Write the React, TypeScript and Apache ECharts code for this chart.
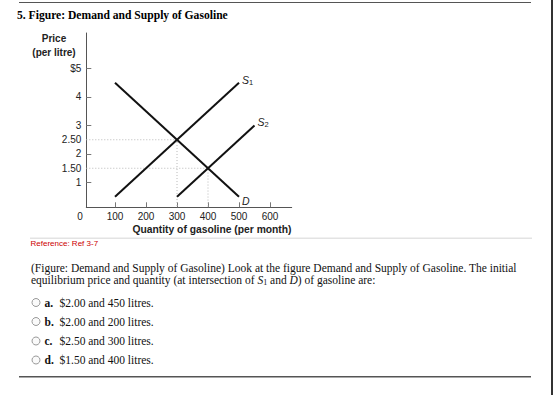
import React, { useEffect, useRef } from "react";
import * as echarts from "echarts";

const demand: number[][] = [[100, 4.5], [500, 0.5]];
const supply1: number[][] = [[100, 0.5], [500, 4.5]];
const supply2: number[][] = [[300, 0.5], [550, 3]];
const equilibria: number[][] = [[300, 2.5], [400, 1.5]];
const priceTicks = [1, 2, 3, 4, 5];
const priceLabels = [1, 1.5, 2, 2.5, 3, 4, 5];
const quantityTicks = [100, 200, 300, 400, 500, 600];
const answerLetters = ["a.", "b.", "c.", "d."];
const answerTexts = [
  "$2.00 and 450 litres.",
  "$2.00 and 200 litres.",
  "$2.50 and 300 litres.",
  "$1.50 and 400 litres.",
];

const X_MIN = 7.4;
const X_MAX = 670;
const Y_MIN = 0.13;
const Y_MAX = 6.245;

const SANS = "'Liberation Sans', Arial, sans-serif";
const SERIF = "'Liberation Serif', 'Times New Roman', serif";

export default function App() {
  const ref = useRef<HTMLDivElement>(null);
  useEffect(() => {
    if (!ref.current) return;
    const chart = echarts.init(ref.current, undefined, { renderer: "svg" });

    const curveLabel = (main: string, sub: string) => ({
      show: true,
      formatter: sub ? `{s|${main}}{b|${sub}}` : `{s|${main}}`,
      distance: 3,
      offset: [0, main === "D" ? 4 : -3],
      rich: {
        s: { fontFamily: SANS, fontStyle: "italic", fontSize: 10.5, color: "#222" },
        b: { fontFamily: SANS, fontSize: 7.5, color: "#222", padding: [5, 0, 0, 0] },
      },
    });

    const lineSeries = (data: number[][], main: string, sub: string) => ({
      type: "line",
      data,
      symbol: "none",
      silent: true,
      lineStyle: { color: "#111", width: 2 },
      endLabel: curveLabel(main, sub),
      z: 5,
    });

    const guideSeries = equilibria.map(([q, p]) => ({
      type: "line",
      data: [[X_MIN, p], [q, p], [q, Y_MIN]],
      symbol: "none",
      silent: true,
      lineStyle: { color: "#b8b8b8", width: 1, type: [1, 2] },
      z: 2,
    }));

    const graphics: any[] = [
      { type: "rect", shape: { x: 19, y: 2, width: 512, height: 1 }, style: { fill: "#555" } },
      { type: "rect", shape: { x: 551, y: 0, width: 2, height: 395 }, style: { fill: "#333" } },
      {
        type: "text", x: 17, y: 15,
        style: { text: "5. Figure: Demand and Supply of Gasoline", font: `bold 11.6px ${SERIF}`, fill: "#000", textVerticalAlign: "middle" },
      },
      {
        type: "text", x: 54, y: 38.5,
        style: { text: "Price", font: `bold 10px ${SANS}`, fill: "#222", textAlign: "center", textVerticalAlign: "middle" },
      },
      {
        type: "text", x: 54, y: 52.5,
        style: { text: "(per litre)", font: `bold 10px ${SANS}`, fill: "#222", textAlign: "center", textVerticalAlign: "middle" },
      },
      {
        type: "text", x: 80, y: 216,
        style: { text: "0", font: `10px ${SANS}`, fill: "#222", textAlign: "center", textVerticalAlign: "middle" },
      },
      {
        type: "text", x: 212, y: 229.5,
        style: { text: "Quantity of gasoline (per month)", font: `bold 10.3px ${SANS}`, fill: "#222", textAlign: "center", textVerticalAlign: "middle" },
      },
      { type: "rect", shape: { x: 30, y: 237.5, width: 502, height: 1.5 }, style: { fill: "#e3e3e3" } },
      {
        type: "text", x: 30.5, y: 243,
        style: { text: "Reference: Ref 3-7", font: `8px ${SANS}`, fill: "#cc0000", textVerticalAlign: "middle" },
      },
      {
        type: "text", x: 31, y: 267.5,
        style: {
          text: "(Figure: Demand and Supply of Gasoline) Look at the figure Demand and Supply of Gasoline. The initial",
          font: `11.5px ${SERIF}`, fill: "#111", textVerticalAlign: "middle",
        },
      },
      {
        type: "text", x: 31, y: 280,
        style: {
          text: "{n|equilibrium price and quantity (at intersection of }{i|S}{sb|1}{n| and }{i|D}{n|) of gasoline are:}",
          fill: "#111", textVerticalAlign: "middle",
          rich: {
            n: { fontFamily: SERIF, fontSize: 11.5, fill: "#111" },
            i: { fontFamily: SERIF, fontSize: 11.5, fontStyle: "italic", fill: "#111" },
            sb: { fontFamily: SERIF, fontSize: 8, fill: "#111", padding: [4, 0, 0, 0] },
          },
        },
      },
      { type: "rect", shape: { x: 19, y: 376, width: 512, height: 1.5 }, style: { fill: "#555" } },
    ];

    const optionYs = [302.5, 321.5, 341, 360];
    answerLetters.forEach((letter, i) => {
      const y = optionYs[i];
      graphics.push({
        type: "circle", shape: { cx: 36, cy: y, r: 4 },
        style: { fill: "#fafafa", stroke: "#9a9a9a", lineWidth: 1 },
      });
      graphics.push({
        type: "text", x: 44.5, y,
        style: { text: letter, font: `bold 11.5px ${SERIF}`, fill: "#111", textVerticalAlign: "middle" },
      });
      graphics.push({
        type: "text", x: 59.5, y,
        style: { text: answerTexts[i], font: `11.5px ${SERIF}`, fill: "#111", textVerticalAlign: "middle" },
      });
    });

    chart.setOption({
      animation: false,
      backgroundColor: "#ffffff",
      grid: { left: 86.3, right: 553 - 291.7, top: 33, bottom: 395 - 207.3, containLabel: false },
      xAxis: {
        type: "value",
        min: X_MIN,
        max: X_MAX,
        splitLine: { show: false },
        axisLine: { show: true, lineStyle: { color: "#555", width: 1 } },
        axisTick: { show: true, inside: true, length: 5, customValues: quantityTicks, lineStyle: { color: "#777" } },
        axisLabel: { customValues: quantityTicks, margin: 4, fontFamily: SANS, fontSize: 10, color: "#222" },
      },
      yAxis: {
        type: "value",
        min: Y_MIN,
        max: Y_MAX,
        splitLine: { show: false },
        axisLine: { show: true, lineStyle: { color: "#555", width: 1 } },
        axisTick: { show: true, inside: true, length: 5, customValues: priceTicks, lineStyle: { color: "#777" } },
        axisLabel: {
          customValues: priceLabels,
          margin: 5,
          fontFamily: SANS,
          fontSize: 10,
          color: "#222",
          formatter: (v: number) => (v === 5 ? "$5" : v % 1 !== 0 ? v.toFixed(2) : String(v)),
        },
      },
      series: [
        ...guideSeries,
        lineSeries(demand, "D", ""),
        lineSeries(supply1, "S", "1"),
        lineSeries(supply2, "S", "2"),
      ],
      graphic: graphics,
    });

    return () => chart.dispose();
  }, []);

  return (
    <div
      ref={ref}
      style={{ position: "absolute", left: 0, top: 0, width: 553, height: 395, background: "#fff" }}
    />
  );
}
